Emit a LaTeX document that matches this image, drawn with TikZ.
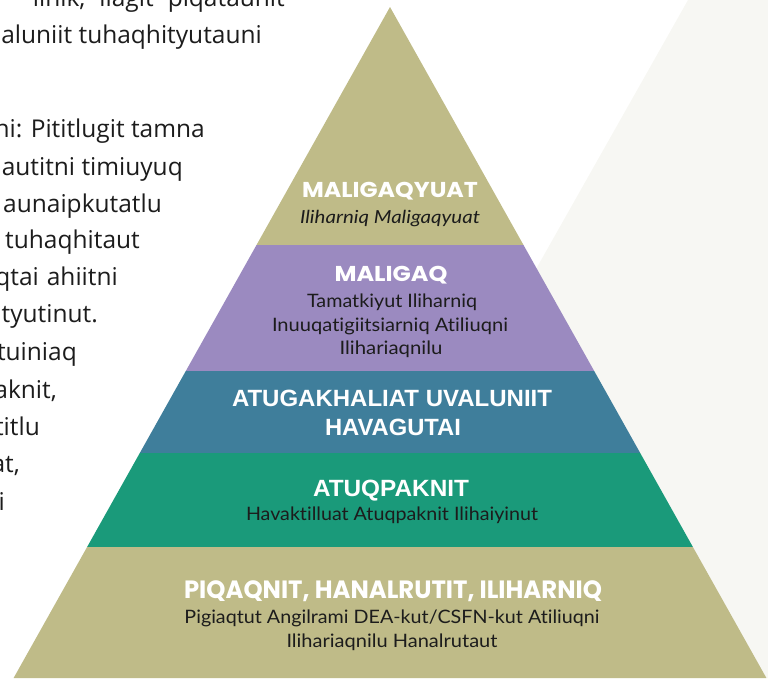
\documentclass[tikz,border=0pt]{standalone}
\usepackage{fontspec}
\usepackage{graphicx}
\setmainfont{Open Sans}[Ligatures=NoCommon]
\newfontfamily\headfont{Poppins}
\newfontfamily\condfont{Liberation Sans}
\newfontfamily\subfont{Lato}[Ligatures=NoCommon]
\definecolor{khaki}{HTML}{BFBB88}
\definecolor{lilac}{HTML}{9B8AC0}
\definecolor{steel}{HTML}{3F7E9B}
\definecolor{jade}{HTML}{1A9A7A}
\definecolor{paper}{HTML}{F7F7F3}
\definecolor{ink}{HTML}{1C1C1C}
\newsavebox\fitbox
\newcommand\fitto[2]{\sbox\fitbox{#2}\pgfmathsetmacro\fitsc{#1/\the\wd\fitbox}\scalebox{\fitsc}[1]{\usebox\fitbox}}
\tikzset{
  bodyline/.style={anchor=base east, inner sep=0pt, text=ink, font=\fontsize{24.5}{29}\selectfont},
  headA/.style={anchor=base, inner sep=0pt, text=white, font=\headfont\bfseries\fontsize{21.5}{24}\selectfont},
  headB/.style={anchor=base, inner sep=0pt, text=white, font=\condfont\bfseries\fontsize{23.5}{26}\selectfont},
  sub/.style={anchor=base, inner sep=0pt, text=ink, font=\subfont\fontsize{18.5}{20}\selectfont},
  subit/.style={anchor=base, inner sep=0pt, text=ink, font=\subfont\itshape\fontsize{18}{20}\selectfont},
}
\begin{document}
\begin{tikzpicture}[x=1pt,y=-1pt]
\useasboundingbox (0,0) rectangle (768,678);
\clip (0,0) rectangle (768,678);
% background sheet
\fill[paper] (688,0) -- (768,0) -- (768,678) -- (305,678) -- cycle;
% pyramid layers
\fill[khaki] (390,7) -- (523.5,245) -- (256.5,245) -- cycle;
\fill[lilac] (256.5,245) -- (523.5,245) -- (594.2,371) -- (185.8,371) -- cycle;
\fill[steel] (185.8,371) -- (594.2,371) -- (640.2,453) -- (139.8,453) -- cycle;
\fill[jade] (139.8,453) -- (640.2,453) -- (692.9,547) -- (87.1,547) -- cycle;
\fill[khaki] (87.1,547) -- (692.9,547) -- (766.4,678) -- (13.6,678) -- cycle;
% left paragraph (clipped at the picture edge, as in the reference)
\node[bodyline] (t1) at (285,6) {iinik,\hspace{14pt}ilagit\hspace{14pt}piqataunit};
\node[bodyline] (t2) at (262,43) {aluniit tuhaqhityutauni};
\node[bodyline] (t3) at (205,137) {ni: Pititlugit tamna};
\node[bodyline] (t4) at (183,175) {autitni timiuyuq};
\node[bodyline] (t5) at (162,212) {aunaipkutatlu};
\node[bodyline] (t6) at (140,248) {tuhaqhitaut};
\node[bodyline] (t7) at (118,285) {qtai\hspace{8pt}ahiitni};
\node[bodyline] (t8) at (98,322) {ntyutinut.};
\node[bodyline] (t9) at (77,360) {tuiniaq};
\node[bodyline] (t10) at (57,398) {aknit,};
\node[bodyline] (t11) at (40,435) {titlu};
\node[bodyline] (t12) at (20,472) {at,};
\node[bodyline] (t13) at (5,510) {i};
% level 1
\node[headA] (h1) at (390,197) {\fitto{176}{MALIGAQYUAT}};
\node[subit] (s1) at (390,223) {\fitto{180}{Iliharniq Maligaqyuat}};
% level 2
\node[headA] (h2) at (391,281) {\fitto{113}{MALIGAQ}};
\node[sub] (s2a) at (392,307.5) {\fitto{170}{Tamatkiyut Iliharniq}};
\node[sub] (s2b) at (390,331) {\fitto{236}{Inuuqatigiitsiarniq Atiliuqni}};
\node[sub] (s2c) at (391,354.5) {\fitto{103}{Ilihariaqnilu}};
% level 3
\node[headB] (h3a) at (392,406.5) {\fitto{320}{ATUGAKHALIAT UVALUNIIT}};
\node[headB] (h3b) at (393,435) {\fitto{136}{HAVAGUTAI}};
% level 4
\node[headB] (h4) at (391,496.5) {\fitto{156}{ATUQPAKNIT}};
\node[sub] (s4) at (392,520.5) {\fitto{292}{Havaktilluat Atuqpaknit Ilihaiyinut}};
% level 5
\node[headA,font=\headfont\bfseries\fontsize{25}{28}\selectfont] (h5) at (393,598) {\fitto{418}{PIQAQNIT, HANALRUTIT, ILIHARNIQ}};
\node[sub] (s5a) at (392,623) {\fitto{415}{Pigiaqtut Angilrami DEA-kut/CSFN-kut Atiliuqni}};
\node[sub] (s5b) at (392,647) {\fitto{211}{Ilihariaqnilu Hanalrutaut}};
\end{tikzpicture}
\end{document}
